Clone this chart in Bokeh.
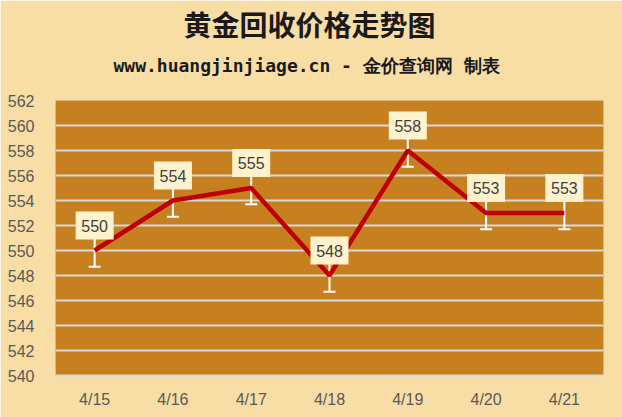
from bokeh.plotting import figure
from bokeh.models import ColumnDataSource, Whisker, TeeHead, Title, FactorRange, FixedTicker
from bokeh.embed import file_html
from bokeh.resources import INLINE
from bokeh.core.properties import value

dates = ["4/15", "4/16", "4/17", "4/18", "4/19", "4/20", "4/21"]
prices = [550, 554, 555, 548, 558, 553, 553]
err = 1.3
y_ticks = list(range(540, 563, 2))
label_lift = 2.0

src = ColumnDataSource(dict(
    x=dates, y=prices,
    lo=[v - err for v in prices], hi=[v + err for v in prices],
    ly=[v + label_lift for v in prices],
    lab=[str(v) for v in prices],
))

BG = "#F8DDA5"
PLOT = "#C7801F"

W, H = 622, 417
FL, FR, FT, FB = 55, 603, 100, 375

p = figure(width=W, height=H, x_range=FactorRange(*dates), y_range=(540, 562),
           output_backend="svg", toolbar_location=None,
           min_border_left=FL, min_border_right=W - FR, min_border_top=FT, min_border_bottom=H - FB)
p.background_fill_color = PLOT
p.border_fill_color = BG
p.outline_line_color = None

p.xgrid.grid_line_color = None
p.ygrid.grid_line_color = "#D9D9D9"
p.ygrid.grid_line_width = 2
p.yaxis.ticker = FixedTicker(ticks=y_ticks)

for ax in (p.xaxis[0], p.yaxis[0]):
    ax.major_tick_line_color = None
    ax.minor_tick_line_color = None
    ax.major_label_text_font = "Liberation Sans"
    ax.major_label_text_font_size = "16px"
    ax.major_label_text_color = "#595959"
p.yaxis.axis_line_color = None
p.yaxis.major_label_standoff = 15
p.xaxis.axis_line_color = "#D9D9D9"
p.xaxis.axis_line_width = 2
p.xaxis.major_label_standoff = 9

w = Whisker(source=src, base="x", lower="lo", upper="hi", dimension="height",
            line_color="white", line_width=2,
            lower_head=TeeHead(size=12, line_color="white", line_width=2),
            upper_head=None)
p.add_layout(w)

p.line("x", "y", source=src, line_color="#C00000", line_width=4.5)

p.rect("x", "ly", width=38, height=28, width_units="screen", height_units="screen",
       source=src, fill_color="#FFF2CC", line_color=None)
p.text("x", "ly", text="lab", source=src, text_align="center", text_baseline="middle",
       text_font=value("Liberation Sans"), text_font_size="16px", text_color="#404040")

p.add_layout(Title(text="www.huangjinjiage.cn - 金价查询网 制表", align="left", offset=113 - FL,
                   standoff=50, text_font="DejaVu Sans Mono", text_font_size="18px",
                   text_font_style="bold", text_color="#1a1a1a"), "above")
p.add_layout(Title(text="黄金回收价格走势图", align="left", offset=183 - FL,
                   standoff=-33, text_font="Noto Sans CJK SC", text_font_size="28px",
                   text_font_style="bold", text_color="#1a1a1a"), "above")

open("out.html", "w").write(file_html(p, INLINE))
